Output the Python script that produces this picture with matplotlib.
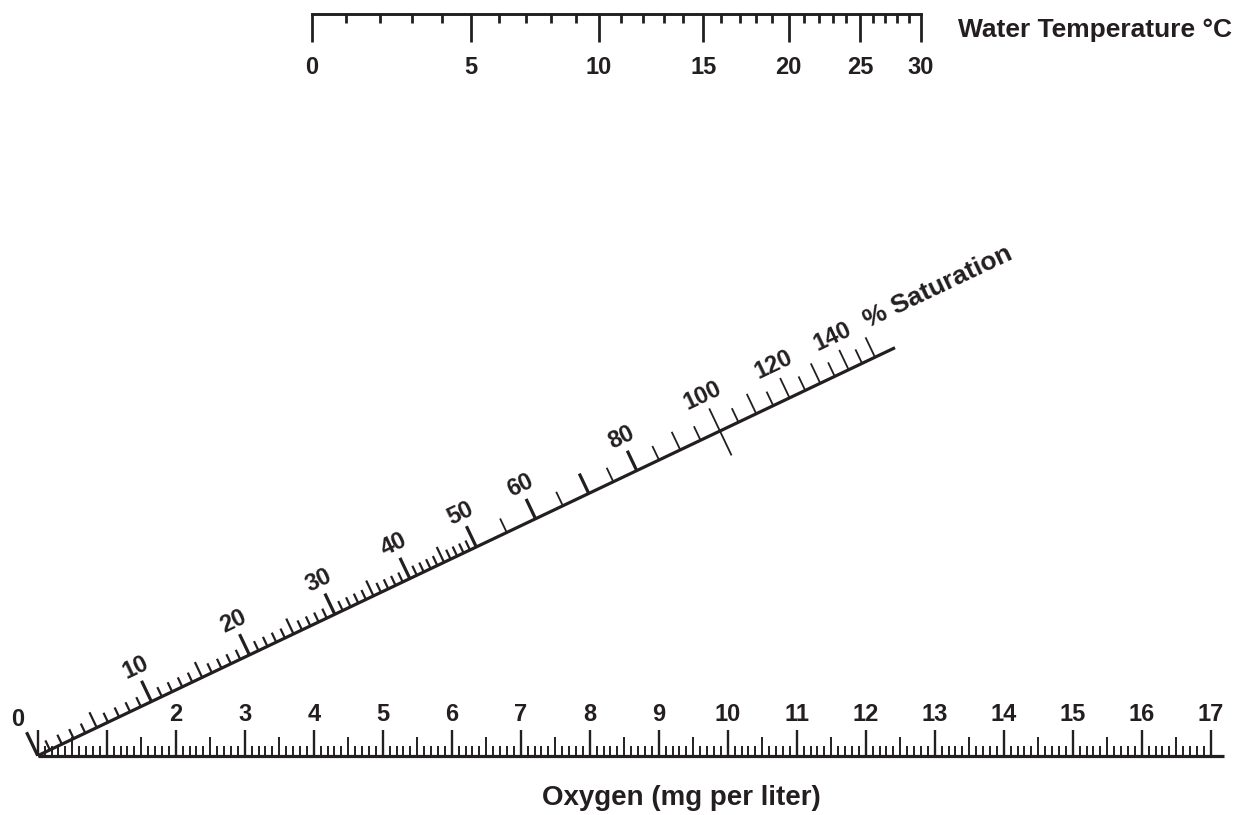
import numpy as np
import matplotlib
matplotlib.use("Agg")
import matplotlib.pyplot as plt
from matplotlib.collections import LineCollection

# ---------------- data ----------------
# top scale: water temperature (deg C) and the oxygen solubility (mg/L) that places each tick
temperature_c = list(range(0, 31))
solubility_mg_l = [14.62, 14.22, 13.83, 13.46, 13.11, 12.77, 12.45, 12.14, 11.84, 11.56,
                   11.29, 11.03, 10.78, 10.54, 10.31, 10.08, 9.87, 9.66, 9.47, 9.28,
                   9.09, 8.91, 8.74, 8.58, 8.42, 8.26, 8.11, 7.97, 7.83, 7.69, 7.56]
temperature_labels = [0, 5, 10, 15, 20, 25, 30]

# bottom scale: oxygen (mg per liter)
oxygen_max = 17
oxygen_subdivisions = 10
oxygen_labels = list(range(2, 18))

# diagonal scale: % saturation
saturation_fine_ticks = list(range(0, 51))           # every 1 %
saturation_coarse_ticks = list(range(55, 151, 5))    # every 5 %
saturation_labels = [10, 20, 30, 40, 50, 60, 80, 100, 120, 140]

# ---------------- layout ----------------
W_PX, H_PX = 1250, 815
PX = 69.0                      # pixels per mg/L on the oxygen scale
ORIGIN = (37.7, 755.7)         # pixel position of oxygen 0
p = 1.0 / PX                   # one pixel in data units

TOP_Y = (ORIGIN[1] - 14.0) * p
B = 1.25
A = (311.7 - ORIGIN[0]) * p + B * solubility_mg_l[0]
SAT_ANGLE = np.deg2rad(25.45)
SAT_LEN = 1700 * p
SAT_K = 100 * B
SAT_END_T = 0.5585

INK = "#231f20"
FONT = ["Liberation Sans", "DejaVu Sans"]
NUM_FS = 17
TITLE_FS = 20

plt.rcParams["font.family"] = FONT

fig = plt.figure(figsize=(W_PX / 100, H_PX / 100), dpi=100)
ax = fig.add_axes([0, 0, 1, 1])
ax.set_xlim(-ORIGIN[0] * p, (W_PX - ORIGIN[0]) * p)
ax.set_ylim((ORIGIN[1] - H_PX) * p, ORIGIN[1] * p)
ax.set_aspect("equal")
ax.axis("off")


def add_segments(segs, lw):
    if segs:
        ax.add_collection(LineCollection(segs, colors=INK, linewidths=lw,
                                         capstyle="butt"))


# ---------------- top scale: temperature ----------------
def x_top(cs):
    return A - B * cs

top_x = [x_top(cs) for cs in solubility_mg_l]
ax.plot([top_x[0], top_x[-1]], [TOP_Y, TOP_Y], color=INK, lw=2.1,
        solid_capstyle="projecting")
segs = []
for T, x in zip(temperature_c, top_x):
    L = 27.7 * p if T % 5 == 0 else 9.3 * p
    segs.append([(x, TOP_Y), (x, TOP_Y - L)])
add_segments(segs, 2.0)
for T in temperature_labels:
    x = top_x[temperature_c.index(T)]
    ax.text(x, TOP_Y - 27.7 * p - 32 * p, str(T), ha="center", va="baseline",
            fontsize=NUM_FS, fontweight="bold", color=INK)
ax.text(top_x[-1] + 37 * p, TOP_Y - 23 * p, "Water Temperature \u00b0C",
        ha="left", va="baseline", fontsize=19, fontweight="bold", color=INK)

# ---------------- bottom scale: oxygen ----------------
ax.plot([0, 1224 * p - ORIGIN[0] * p], [0, 0], color=INK, lw=2.3,
        solid_capstyle="butt")
major, minor = [], []
for k in range(oxygen_max * oxygen_subdivisions + 1):
    v = k / oxygen_subdivisions
    if k % oxygen_subdivisions == 0:
        major.append([(v, 0), (v, 25.5 * p)])
    elif k % (oxygen_subdivisions // 2) == 0:
        minor.append([(v, 0), (v, 19 * p)])
    else:
        minor.append([(v, 0), (v, 10 * p)])
add_segments(major, 1.7)
add_segments(minor, 1.4)
for v in oxygen_labels:
    ax.text(v, 25.5 * p + 9 * p, str(v), ha="center", va="baseline",
            fontsize=NUM_FS, fontweight="bold", color=INK)
ax.text((681 - ORIGIN[0]) * p, (ORIGIN[1] - 805) * p, "Oxygen (mg per liter)",
        ha="center", va="baseline", fontsize=TITLE_FS, fontweight="bold", color=INK)

# ---------------- diagonal scale: % saturation ----------------
ux, uy = np.cos(SAT_ANGLE), np.sin(SAT_ANGLE)
nx, ny = -uy, ux


def sat_base(S):
    t = S / (SAT_K + S)
    return t * SAT_LEN * ux, t * SAT_LEN * uy


ex, ey = SAT_END_T * SAT_LEN * ux, SAT_END_T * SAT_LEN * uy
ax.plot([0, ex], [0, ey], color=INK, lw=2.3, solid_capstyle="butt")

thick, fine, thin = [], [], []
tick_len = {}
for S in saturation_fine_ticks:
    bx, by = sat_base(S)
    if S == 0:
        L = 26
    elif S % 10 == 0:
        L = 23
    elif S % 5 == 0:
        L = 17
    else:
        L = 10.5
    tick_len[S] = L
    seg = [(bx, by), (bx + L * p * nx, by + L * p * ny)]
    (thick if S % 10 == 0 else fine).append(seg)
for S in saturation_coarse_ticks:
    bx, by = sat_base(S)
    if S == 100:
        L, below = 25, 27
    elif S % 10 == 0:
        L, below = (22 if S <= 80 or S >= 110 else 20), 0
    else:
        L, below = 15.5, 0
    tick_len[S] = L
    seg = [(bx - below * p * nx, by - below * p * ny), (bx + L * p * nx, by + L * p * ny)]
    (thick if (S % 10 == 0 and S <= 80) else thin).append(seg)
add_segments(thick, 2.3)
add_segments(fine, 1.6)
add_segments(thin, 1.3)

rot = np.rad2deg(SAT_ANGLE)
for S in saturation_labels:
    bx, by = sat_base(S)
    d = (tick_len[S] + 8) * p
    ax.text(bx + d * nx, by + d * ny, str(S), rotation=rot, rotation_mode="anchor",
            ha="center", va="baseline", fontsize=NUM_FS, fontweight="bold", color=INK)
# zero label, upright
bx, by = sat_base(0)
d = (tick_len[0] + 14) * p
ax.text(bx + d * nx - 3 * p, by + d * ny, "0", ha="center", va="center",
        fontsize=NUM_FS, fontweight="bold", color=INK)

# scale title along the diagonal
tx, ty = 0.549 * SAT_LEN * ux, 0.549 * SAT_LEN * uy
ax.text(tx + 29 * p * nx, ty + 29 * p * ny, "% Saturation", rotation=rot,
        rotation_mode="anchor", ha="left", va="baseline", fontsize=19,
        fontweight="bold", color=INK)

fig.savefig("out.png", dpi=100, facecolor="white")
